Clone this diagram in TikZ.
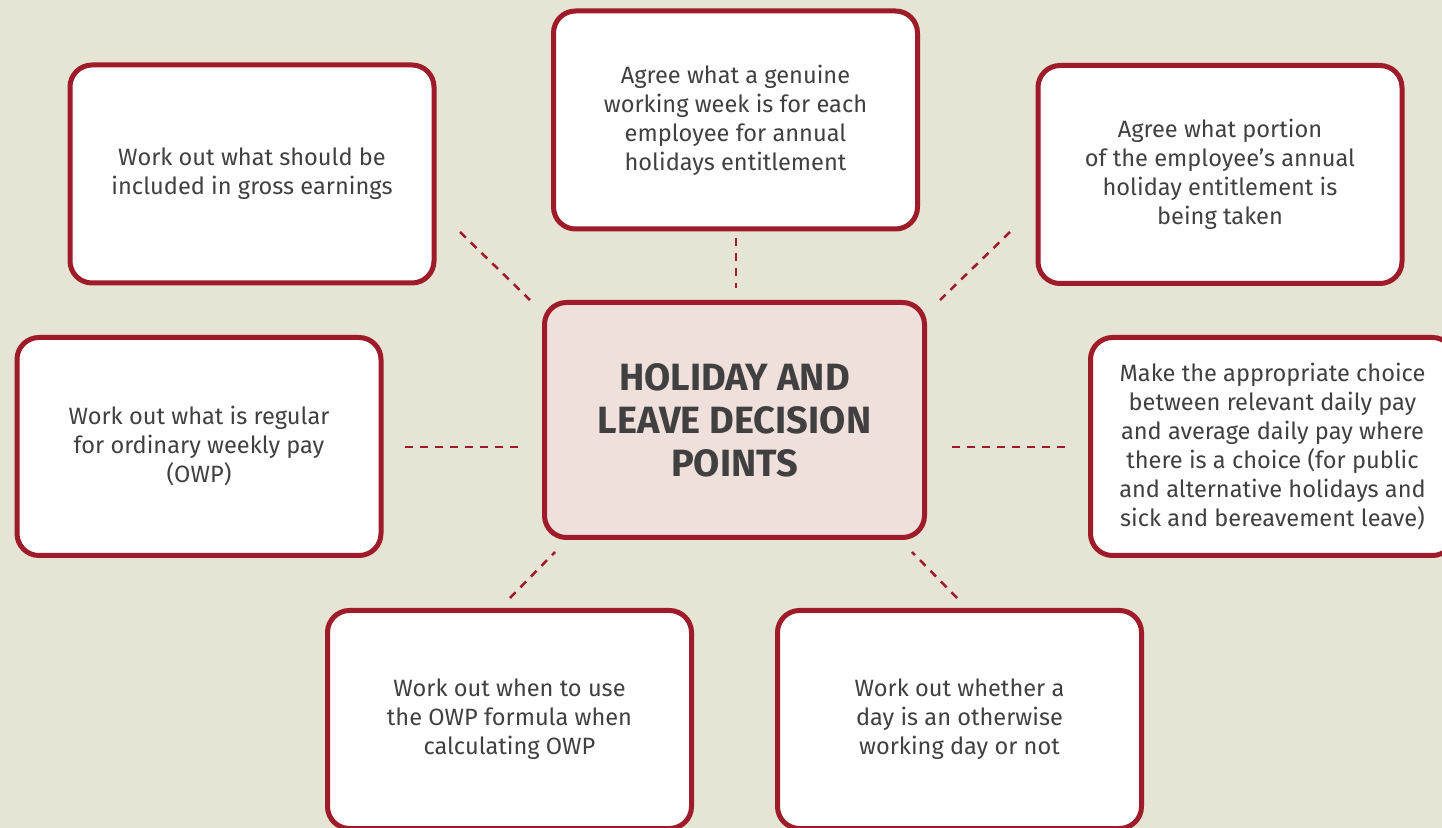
\documentclass[tikz,border=0pt]{standalone}
\usepackage{fontspec}
\setmainfont{Fira Sans}
\usetikzlibrary{positioning}
\definecolor{bgcream}{RGB}{230,228,212}
\definecolor{boxred}{RGB}{158,27,42}
\definecolor{hubfill}{RGB}{240,224,220}
\definecolor{textgrey}{RGB}{64,64,64}
\tikzset{
  pointbox/.style={draw=boxred, line width=2.5pt, rounded corners=11pt, fill=white,
    minimum width=182pt, minimum height=109pt, align=center, text=textgrey,
    font=\fontsize{11.8}{14.5}\selectfont},
  hubbox/.style={pointbox, fill=hubfill, minimum width=190pt, minimum height=117.5pt,
    font=\fontsize{19}{21.5}\selectfont\bfseries},
  spoke/.style={draw=boxred, line width=1.25pt, dash pattern=on 4pt off 3.5pt}
}

\begin{document}
\begin{tikzpicture}[x=0.5pt, y=-0.5pt]
\fill[bgcream] (0,0) rectangle (1442,828);
\useasboundingbox (0,0) rectangle (1442,828);

% centre
\node[hubbox] (hub) at (734.5,420) {HOLIDAY AND\\LEAVE DECISION\\POINTS};

% decision points
\node[pointbox] (gross) at (252,174) {Work out what should be\\included in gross earnings};
\node[pointbox] (week) at (735.5,120) {Agree what a genuine\\working week is for each\\employee for annual\\holidays entitlement};
\node[pointbox] (portion) at (1220,174.5) {Agree what portion\\of the employee’s annual\\holiday entitlement is\\being taken};
\node[pointbox] (regular) at (199,446.5) {Work out what is regular\\for ordinary weekly pay\\(OWP)};
\node[pointbox] (choice) at (1272.5,446.5) {Make the appropriate choice\\between relevant daily pay\\and average daily pay where\\there is a choice (for public\\and alternative holidays and\\sick and bereavement leave)};
\node[pointbox] (formula) at (509.5,719.5) {Work out when to use\\the OWP formula when\\calculating OWP};
\node[pointbox] (workday) at (959.5,719.5) {Work out whether a\\day is an otherwise\\working day or not};

% spokes
\coordinate (grossEnd) at (460,232);
\coordinate (grossHub) at (530,300);
\coordinate (weekEnd) at (736,238);
\coordinate (weekHub) at (736,288);
\coordinate (portionEnd) at (1010,232);
\coordinate (portionHub) at (940,300);
\coordinate (regularEnd) at (405,447);
\coordinate (regularHub) at (520,447);
\coordinate (choiceEnd) at (1065,447);
\coordinate (choiceHub) at (950,447);
\coordinate (formulaEnd) at (510,598);
\coordinate (formulaHub) at (555,552);
\coordinate (workdayEnd) at (957,598);
\coordinate (workdayHub) at (912,552);
\foreach \p in {gross, week, portion, regular, choice, formula, workday}
  \draw[spoke] (\p End) -- (\p Hub);

\end{tikzpicture}
\end{document}
